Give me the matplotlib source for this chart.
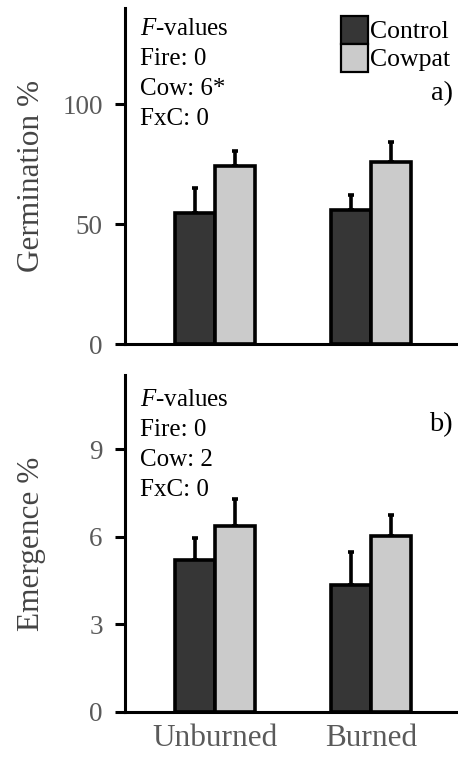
import matplotlib
matplotlib.use("Agg")
import matplotlib.pyplot as plt
import numpy as np
from matplotlib.patches import Patch

groups = ["Unburned", "Burned"]
series = ["Control", "Cowpat"]
germ_control = [54.6, 55.8]
germ_control_err = [10.4, 6.2]
germ_cowpat = [74.2, 76.0]
germ_cowpat_err = [6.3, 8.0]
emer_control = [5.2, 4.35]
emer_control_err = [0.76, 1.15]
emer_cowpat = [6.37, 6.03]
emer_cowpat_err = [0.93, 0.72]
germ_ticks = [0, 50, 100]
emer_ticks = [0, 3, 6, 9]
germ_text = ["Fire: 0", "Cow: 6*", "FxC: 0"]
emer_text = ["Fire: 0", "Cow: 2", "FxC: 0"]

plt.rcParams['font.family'] = ['Liberation Serif', 'DejaVu Serif']
plt.rcParams['mathtext.fontset'] = 'custom'
plt.rcParams['mathtext.it'] = 'Liberation Serif:italic'
plt.rcParams['mathtext.rm'] = 'Liberation Serif'

fig = plt.figure(figsize=(4.58, 7.58), dpi=100)
ax1 = fig.add_axes([0.273, 0.546, 0.727, 0.4435])
ax2 = fig.add_axes([0.273, 0.0607, 0.727, 0.4446])

dark = "#363636"
light = "#cbcbcb"
w = 0.256
x = np.arange(len(groups))
txt_size = 18

def panel(ax, ctrl, cerr, cow, werr, ylim, ticks, ylabel, lines, letter, letter_y, text_top, legend):
    ax.bar(x - w/2, ctrl, w, color=dark, edgecolor="black", linewidth=2.6, zorder=3)
    ax.bar(x + w/2, cow, w, color=light, edgecolor="black", linewidth=2.6, zorder=3)
    ax.errorbar(x - w/2, ctrl, yerr=[np.zeros(len(ctrl)), cerr], fmt="none",
                ecolor="black", elinewidth=2.6, capsize=2.5, capthick=2.6, zorder=2)
    ax.errorbar(x + w/2, cow, yerr=[np.zeros(len(cow)), werr], fmt="none",
                ecolor="black", elinewidth=2.6, capsize=2.5, capthick=2.6, zorder=2)
    ax.set_ylim(*ylim)
    ax.set_xlim(-0.577, 1.558)
    ax.set_yticks(ticks)
    ax.set_yticklabels([str(t) for t in ticks])
    for s in ["top", "right"]:
        ax.spines[s].set_visible(False)
    for s in ["left", "bottom"]:
        ax.spines[s].set_linewidth(2.2)
    ax.tick_params(axis="y", length=7, width=2.2, pad=9, labelsize=19.5, labelcolor="#5a5a5a")
    ax.set_ylabel(ylabel, fontsize=22.5, color="#444444")
    ax.yaxis.set_label_coords(-0.237, 0.5)
    ax.text(0.044, text_top, r"$\it{F}$-values", transform=ax.transAxes, fontsize=txt_size,
            va="center", ha="left")
    for i, l in enumerate(lines):
        ax.text(0.044, text_top - 0.089 * (i + 1), l, transform=ax.transAxes, fontsize=txt_size,
                va="center", ha="left")
    ax.text(0.985, letter_y, letter, transform=ax.transAxes, fontsize=20.5,
            va="center", ha="right")
    if legend:
        ax.legend([Patch(facecolor=dark, edgecolor="black", linewidth=1.6),
                   Patch(facecolor=light, edgecolor="black", linewidth=1.6)],
                  series, loc="upper right", bbox_to_anchor=(1.008, 1.008), frameon=False,
                  fontsize=18.5, handlelength=1.05, handleheight=1.3, handletextpad=0.08,
                  labelspacing=0.0, borderpad=0.2, borderaxespad=0.2)

panel(ax1, germ_control, germ_control_err, germ_cowpat, germ_cowpat_err, (0, 140),
      germ_ticks, "Germination %", germ_text, "a)", 0.745, 0.938, True)
panel(ax2, emer_control, emer_control_err, emer_cowpat, emer_cowpat_err, (0, 11.55),
      emer_ticks, "Emergence %", emer_text, "b)", 0.852, 0.925, False)

ax1.set_xticks([])
ax2.set_xticks(x)
ax2.set_xticklabels(groups)
ax2.tick_params(axis="x", length=0, pad=9, labelsize=22.5, labelcolor="#5a5a5a")

fig.savefig("out.png", dpi=100)
